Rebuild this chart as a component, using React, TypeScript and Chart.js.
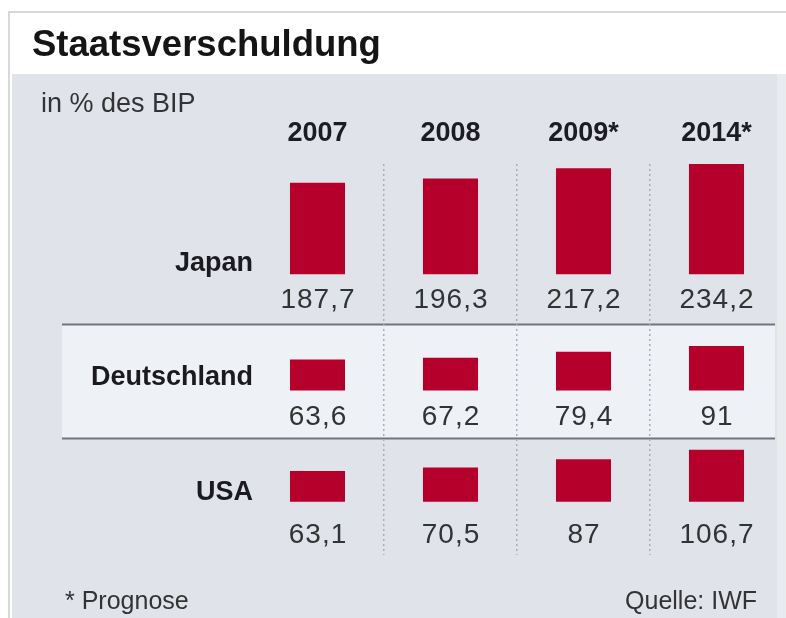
import React, { useEffect, useRef } from "react";
import { Chart, registerables } from "chart.js";

Chart.register(...registerables);

// ---- data ----
const years = ["2007", "2008", "2009*", "2014*"];
const countries = ["Japan", "Deutschland", "USA"];
const japan = [187.7, 196.3, 217.2, 234.2];
const deutschland = [63.6, 67.2, 79.4, 91];
const usa = [63.1, 70.5, 87, 106.7];
const title = "Staatsverschuldung";
const subtitle = "in % des BIP";
const footnote = "* Prognose";
const source = "Quelle: IWF";

// ---- layout constants (not data) ----
const rowBase = [466, 228, 0];
const Y_MIN = -109;
const Y_MAX = 692;
const valueOffset = [34, 35, 41];
const labelOffset = [3, 5, 2];

const BAR = "#b5002c";
const PANEL = "#e0e4ea";
const BAND = "#eef1f5";

const fmt = (v: number) => String(v).replace(".", ",");

const decor = {
  id: "decor",
  beforeDraw(chart: any) {
    const { ctx, width, height } = chart;
    const y = chart.scales.y;
    ctx.save();
    ctx.fillStyle = "#ffffff";
    ctx.fillRect(0, 0, width, height);
    // outer frame
    ctx.fillStyle = "#d6d8da";
    ctx.fillRect(8, 11, width - 8, 2);
    ctx.fillRect(8, 11, 2, height - 11);
    // panel
    ctx.fillStyle = PANEL;
    ctx.fillRect(12, 74, 765, height - 74);
    ctx.fillStyle = "#e8ecee";
    ctx.fillRect(777, 74, width - 777, height - 74);
    // Deutschland band
    const b1 = y.getPixelForValue(rowBase[1]);
    const top = b1 - 66;
    const bottom = b1 + 48;
    ctx.fillStyle = BAND;
    ctx.fillRect(62, top, 775 - 62, bottom - top);
    ctx.fillStyle = "#72767c";
    ctx.fillRect(62, top - 1, 775 - 62, 2);
    ctx.fillRect(62, bottom - 1, 775 - 62, 2);
    // title & subtitle
    ctx.fillStyle = "#151515";
    ctx.textBaseline = "alphabetic";
    ctx.textAlign = "left";
    ctx.font = "bold 36.5px 'Liberation Sans'";
    ctx.fillText(title, 32, 56);
    ctx.fillStyle = "#333333";
    ctx.font = "27px 'Liberation Sans'";
    ctx.fillText(subtitle, 41, 112);
    // footer
    ctx.font = "25px 'Liberation Sans'";
    ctx.fillText(footnote, 65, 609);
    ctx.textAlign = "right";
    ctx.fillText(source, 757, 609);
    ctx.restore();
  },
  afterDatasetsDraw(chart: any) {
    const { ctx } = chart;
    const y = chart.scales.y;
    ctx.save();
    // row labels
    ctx.fillStyle = "#1a1a1f";
    ctx.font = "bold 27px 'Liberation Sans'";
    ctx.textAlign = "right";
    ctx.textBaseline = "alphabetic";
    countries.forEach((c, i) => {
      ctx.fillText(c, 253, y.getPixelForValue(rowBase[i]) - labelOffset[i]);
    });
    // value labels
    ctx.fillStyle = "#333333";
    ctx.font = "28px 'Liberation Sans'";
    (ctx as any).letterSpacing = "1px";
    ctx.textAlign = "center";
    chart.data.datasets.forEach((ds: any, i: number) => {
      const meta = chart.getDatasetMeta(i);
      meta.data.forEach((el: any, j: number) => {
        const v = ds.values[j];
        ctx.fillText(fmt(v), el.x + 0.5, el.base + valueOffset[i]);
      });
    });
    ctx.restore();
  },
};

const series = [japan, deutschland, usa];

export default function App() {
  const ref = useRef<HTMLCanvasElement | null>(null);
  useEffect(() => {
    if (!ref.current) return;
    const chart = new Chart(ref.current, {
      type: "bar",
      data: {
        labels: years,
        datasets: series.map((vals, i) => ({
          label: countries[i],
          values: vals,
          data: vals.map((v) => [rowBase[i], rowBase[i] + v]),
          backgroundColor: BAR,
          borderWidth: 0,
          grouped: false,
          categoryPercentage: 1,
          barPercentage: 0.414,
        })) as any,
      },
      options: {
        responsive: false,
        animation: false,
        devicePixelRatio: 1,
        layout: { padding: { left: 251, right: 3, top: 103.6, bottom: 63 } },
        plugins: {
          legend: { display: false },
          title: { display: false },
          tooltip: { enabled: false },
        },
        scales: {
          x: {
            position: "top",
            offset: true,
            grid: {
              display: true,
              offset: true,
              drawTicks: false,
              lineWidth: 1.5,
              color: (c: any) =>
                c.type === "tick" && c.index > 0 ? "#a9aeb6" : "rgba(0,0,0,0)",
            },
            border: { display: false, dash: [2, 3] },
            ticks: {
              padding: 14,
              color: "#1c1c22",
              font: { family: "'Liberation Sans'", weight: "bold", size: 27 },
            },
          },
          y: {
            display: false,
            min: Y_MIN,
            max: Y_MAX,
          },
        },
      } as any,
      plugins: [decor],
    });
    return () => chart.destroy();
  }, []);
  return (
    <div style={{ position: "absolute", left: 0, top: 0, width: 786, height: 618 }}>
      <canvas ref={ref} width={786} height={618} />
    </div>
  );
}
